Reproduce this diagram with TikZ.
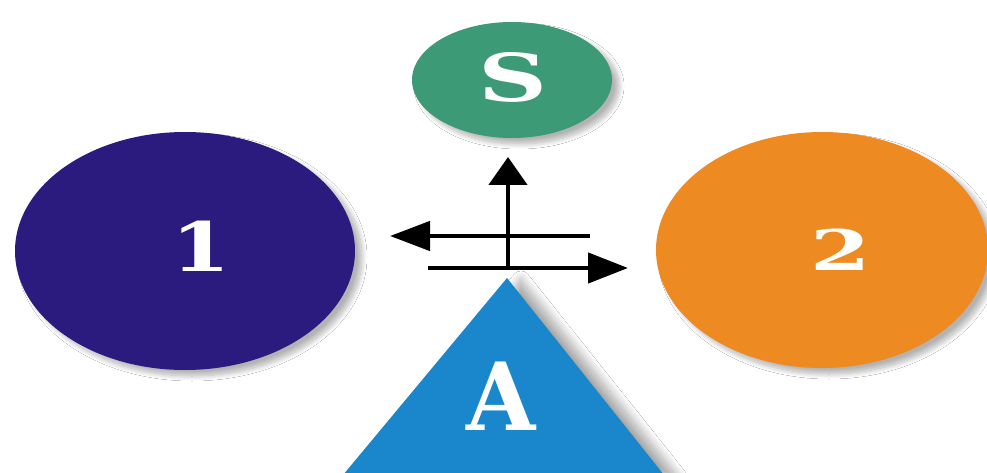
\documentclass[tikz,border=0pt]{standalone}
\usepackage{fontspec}
\setmainfont{DejaVu Serif}
\usetikzlibrary{shapes.geometric,arrows.meta,shadows.blur}
\definecolor{navyfill}{HTML}{2B1B7E}
\definecolor{orangefill}{HTML}{EE8A22}
\definecolor{greenfill}{HTML}{3C9A76}
\definecolor{bluefill}{HTML}{1A87CC}
\tikzset{
  blob/.style={ellipse, inner sep=0pt, blur shadow={shadow xshift=7pt, shadow yshift=-6pt, shadow blur steps=12, shadow opacity=30, shadow blur radius=5pt}},
  lbl/.style={text=white, inner sep=0pt},
  arr/.style={line width=4.5pt, black},
}
\begin{document}
\begin{tikzpicture}[x=1pt,y=-1pt]
\useasboundingbox[fill=white] (0,0) rectangle (987,473);
% shapes
\node[blob, fill=navyfill, minimum width=340pt, minimum height=238pt] (one) at (185,251) {};
\node[blob, fill=orangefill, minimum width=332pt, minimum height=236pt] (two) at (822,250) {};
\node[blob, fill=greenfill, minimum width=200pt, minimum height=116pt] (s) at (512,80) {};
\fill[bluefill, blur shadow={shadow xshift=14pt, shadow yshift=-2pt, shadow blur steps=14, shadow opacity=35, shadow blur radius=9pt}] (343,475) -- (507,278) -- (664,475) -- cycle;
\coordinate (apex) at (507,278);
% labels
\node[lbl, font=\bfseries\fontsize{68}{68}\selectfont] (t1) at (201,246) {\scalebox{1.25}[1]{1}};
\node[lbl, font=\bfseries\fontsize{56}{56}\selectfont] (t2) at (841,250) {\scalebox{1.55}[1]{2}};
\node[lbl, font=\bfseries\fontsize{66}{66}\selectfont] (ts) at (513,77) {\scalebox{1.45}[1]{S}};
\node[lbl, font=\bfseries\fontsize{94}{94}\selectfont] (ta) at (501,396) {\scalebox{0.95}[1]{A}};
% arrows
\coordinate (vbot) at (508,268);
\coordinate (vtop) at (508,157);
\coordinate (lstart) at (590,236);
\coordinate (lend) at (390,236);
\coordinate (rstart) at (428,268);
\coordinate (rend) at (628,268);
\draw[arr, -{Triangle[length=28pt,width=38pt]}] (vbot) -- (vtop);
\draw[arr, -{Triangle[length=40pt,width=29pt]}] (lstart) -- (lend);
\draw[arr, -{Triangle[length=40pt,width=30pt]}] (rstart) -- (rend);
\end{tikzpicture}
\end{document}
